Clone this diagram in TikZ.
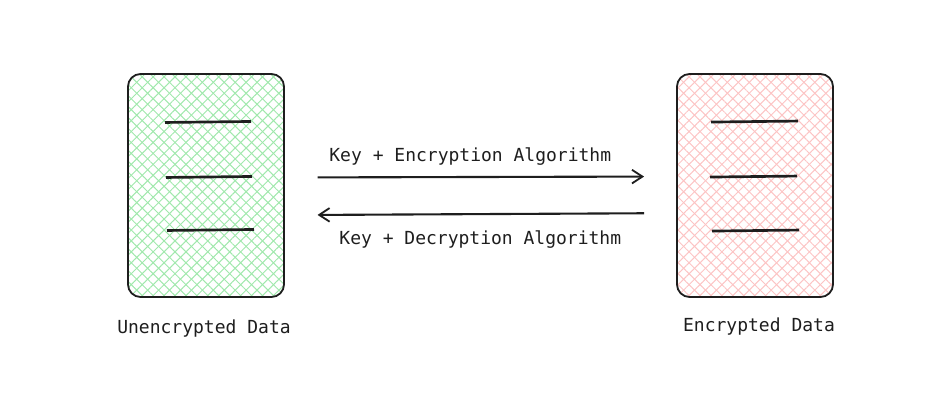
\documentclass[tikz,border=0pt]{standalone}
\usepackage{fontspec}
\setmonofont{DejaVu Sans Mono}
\usepackage{tikz}
\usetikzlibrary{arrows.meta, positioning, patterns.meta, calc}

\definecolor{plaingreen}{RGB}{160,232,172}
\definecolor{cipherpink}{RGB}{252,196,196}
\definecolor{inkgray}{RGB}{30,30,30}

\begin{document}
\begin{tikzpicture}[
      x=0.025cm, y=-0.025cm,
      document/.style={rectangle, draw=inkgray, line width=1.3pt, rounded corners=9pt, minimum width=3.9cm, minimum height=5.575cm,
        preaction={pattern={Lines[angle=45, distance=5.5pt, line width=0.7pt]}, pattern color=#1},
        pattern={Lines[angle=-45, distance=5.5pt, line width=0.7pt]}, pattern color=#1},
      textline/.style={draw=inkgray, line width=1.9pt},
      caption/.style={font=\ttfamily\fontsize{12.8}{15}\selectfont, text=inkgray, inner sep=0pt},
      arrow/.style={-{Straight Barb[length=2.6mm, width=3.4mm, line width=1.3pt]}, line width=1.5pt, draw=inkgray}
      ]

      \useasboundingbox (0,0) rectangle (949,405);

      % Documents
      \node[document=plaingreen] (plain) at (206,185.5) {};
      \node[document=cipherpink] (cipher) at (755,185.5) {};

      % Lines of text inside the documents
      \draw[textline] ($(plain.north)+(-41,49)$) -- ++(86,-1);
      \draw[textline] ($(plain.north)+(-40,104)$) -- ++(86,-1);
      \draw[textline] ($(plain.north)+(-39,157)$) -- ++(87,-1);
      \draw[textline] ($(cipher.north)+(-44,49)$) -- ++(87,-1);
      \draw[textline] ($(cipher.north)+(-45,104)$) -- ++(87,-1);
      \draw[textline] ($(cipher.north)+(-43,158)$) -- ++(87,-1);

      % Captions
      \node[caption, below=0.55cm of plain, xshift=-0.05cm] (plaincap) {Unencrypted Data};
      \node[caption, below=0.5cm of cipher, xshift=0.1cm] (ciphercap) {Encrypted Data};

      % Arrows
      \draw[arrow, shorten <=0.825cm, shorten >=0.8cm] ([yshift=0.2cm]plain.east) -- ([yshift=0.225cm]cipher.west)
        node[caption, midway, above=0.27cm, xshift=-0.25cm] (enclabel) {Key + Encryption Algorithm};
      \draw[arrow, shorten <=0.8cm, shorten >=0.825cm] ([yshift=-0.69cm]cipher.west) -- ([yshift=-0.74cm]plain.east)
        node[caption, midway, below=0.38cm] (declabel) {Key + Decryption Algorithm};

   \end{tikzpicture}
\end{document}
